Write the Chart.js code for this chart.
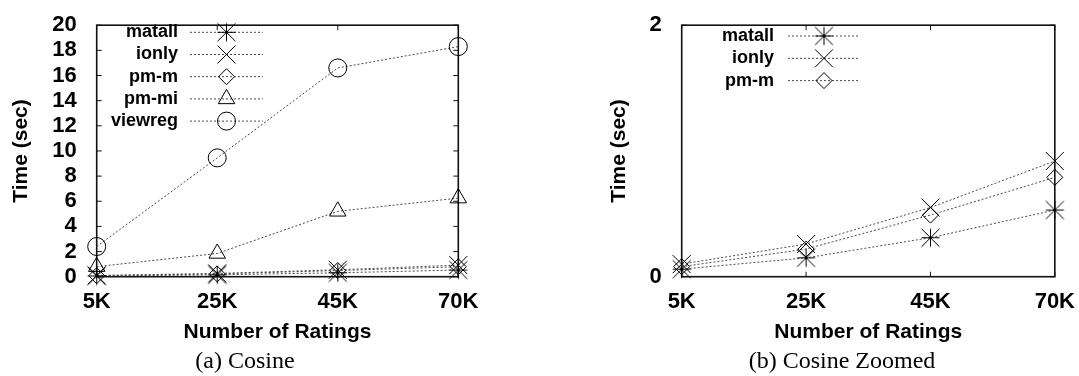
<!DOCTYPE html>
<html>
<head>
<meta charset="utf-8">
<script src="https://cdn.jsdelivr.net/npm/chart.js@4/dist/chart.umd.min.js"></script>
<style>
  html, body { margin: 0; padding: 0; background: #fff; }
  #wrap { position: relative; width: 1079px; height: 376px; overflow: hidden; }
  .panel { position: absolute; top: 0; height: 376px; }
  #pa { left: 0; width: 540px; }
  #pb { left: 540px; width: 539px; }
</style>
</head>
<body>
<div id="wrap">
  <div class="panel" id="pa"><canvas id="ca" width="540" height="376"></canvas></div>
  <div class="panel" id="pb"><canvas id="cb" width="539" height="376"></canvas></div>
</div>
<script>
// Number of ratings on the x axis
const categories = ['5K', '25K', '45K', '70K'];

// Running time in seconds per method
const matall  = [0.06, 0.15, 0.31, 0.53];
const ionly   = [0.10, 0.26, 0.55, 0.92];
const pmM     = [0.08, 0.22, 0.49, 0.79];
const pmMi    = [0.80, 1.85, 5.20, 6.25];
const viewreg = [2.40, 9.45, 16.60, 18.30];

// Tick labels of the two y axes
const yTicksFull   = [0, 2, 4, 6, 8, 10, 12, 14, 16, 18, 20];
const yTicksZoomed = [0, 2];

const SANS = '"Liberation Sans", Arial, Helvetica, sans-serif';
const SERIF = '"Liberation Serif", "Times New Roman", serif';
const LINE_GREY = '#4a4a4a';

// gnuplot-style asterisk: a plus and a cross of equal extent
function makeStar(h) {
  const s = 2 * h + 3;
  const c = document.createElement('canvas');
  c.width = s; c.height = s;
  const g = c.getContext('2d');
  const m = s / 2;
  g.strokeStyle = '#000';
  g.lineWidth = 1;
  g.beginPath();
  g.moveTo(m - h, m); g.lineTo(m + h, m);
  g.moveTo(m, m - h); g.lineTo(m, m + h);
  g.moveTo(m - h, m - h); g.lineTo(m + h, m + h);
  g.moveTo(m - h, m + h); g.lineTo(m + h, m - h);
  g.stroke();
  return c;
}
const starImg = makeStar(9);

const styles = {
  matall:  { label: 'matall',  pointStyle: starImg,    pointRadius: 9 },
  ionly:   { label: 'ionly',   pointStyle: 'crossRot', pointRadius: 12.7 },
  pmM:     { label: 'pm-m',    pointStyle: 'rectRot',  pointRadius: 8 },
  pmMi:    { label: 'pm-mi',   pointStyle: 'triangle', pointRadius: 9.5 },
  viewreg: { label: 'viewreg', pointStyle: 'circle',   pointRadius: 9 }
};

function dataset(key, values) {
  const s = styles[key];
  return {
    label: s.label,
    data: values,
    pointStyle: s.pointStyle,
    pointRadius: s.pointRadius,
    pointHoverRadius: s.pointRadius,
    pointBorderColor: '#000',
    pointBackgroundColor: 'rgba(0,0,0,0)',
    pointBorderWidth: 1,
    borderColor: LINE_GREY,
    borderWidth: 1,
    borderDash: [2, 2],
    tension: 0,
    fill: false,
    clip: false
  };
}

// Frame with inward tick marks on all four sides
const framePlugin = {
  id: 'frame',
  beforeDatasetsDraw(chart) {
    const { ctx, chartArea: a, scales } = chart;
    const tl = 5;
    ctx.save();
    ctx.strokeStyle = '#111';
    ctx.lineWidth = 1;
    ctx.beginPath();
    scales.y.ticks.forEach(t => {
      const py = scales.y.getPixelForValue(t.value);
      ctx.moveTo(a.left, py); ctx.lineTo(a.left + tl, py);
      ctx.moveTo(a.right, py); ctx.lineTo(a.right - tl, py);
    });
    scales.x.ticks.forEach((t, i) => {
      const px = scales.x.getPixelForTick(i);
      ctx.moveTo(px, a.bottom); ctx.lineTo(px, a.bottom - tl);
      ctx.moveTo(px, a.top); ctx.lineTo(px, a.top + tl);
    });
    ctx.stroke();
    ctx.lineWidth = 1.6;
    ctx.strokeRect(a.left, a.top, a.right - a.left, a.bottom - a.top);
    ctx.restore();
  }
};

// Key in the gnuplot manner: label, then a line sample with the marker in its middle
const keyPlugin = {
  id: 'gkey',
  afterDraw(chart, args, opts) {
    const { ctx } = chart;
    ctx.save();
    chart.data.datasets.forEach((ds, i) => {
      const y = opts.y0 + i * opts.dy;
      ctx.fillStyle = '#000';
      ctx.font = 'bold 18px ' + SANS;
      ctx.textAlign = 'right';
      ctx.textBaseline = 'middle';
      ctx.fillText(ds.label, opts.textRight, y);
      ctx.strokeStyle = LINE_GREY;
      ctx.lineWidth = 1;
      ctx.setLineDash([2, 2]);
      ctx.beginPath();
      ctx.moveTo(opts.x0, y); ctx.lineTo(opts.x1, y);
      ctx.stroke();
      ctx.setLineDash([]);
      ctx.strokeStyle = '#000';
      ctx.fillStyle = 'rgba(0,0,0,0)';
      ctx.lineWidth = 1;
      Chart.helpers.drawPoint(ctx, {
        pointStyle: ds.pointStyle, radius: ds.pointRadius, rotation: 0, borderWidth: 1
      }, (opts.x0 + opts.x1) / 2, y);
    });
    ctx.restore();
  }
};

// Sub-figure caption under the axis title
const captionPlugin = {
  id: 'caption',
  afterDraw(chart, args, opts) {
    const { ctx } = chart;
    ctx.save();
    ctx.fillStyle = '#000';
    ctx.font = '24px ' + SERIF;
    ctx.textAlign = 'center';
    ctx.textBaseline = 'middle';
    ctx.fillText(opts.text, opts.x, opts.y);
    ctx.restore();
  }
};

function makeChart(canvasId, cfg) {
  const W = cfg.width, H = 376;
  return new Chart(document.getElementById(canvasId), {
    type: 'line',
    data: { labels: categories, datasets: cfg.datasets },
    plugins: [framePlugin, keyPlugin, captionPlugin],
    options: {
      responsive: false,
      animation: false,
      devicePixelRatio: 1,
      events: [],
      layout: {
        autoPadding: false,
        padding: { top: cfg.top, right: W - cfg.right, left: 0, bottom: 0 }
      },
      plugins: {
        legend: { display: false },
        tooltip: { enabled: false },
        gkey: cfg.key,
        caption: cfg.caption
      },
      scales: {
        x: {
          type: 'category',
          offset: false,
          grid: { display: false },
          border: { display: false },
          ticks: {
            color: '#000',
            font: { family: SANS, size: 22, weight: 'bold' },
            padding: 4,
            maxRotation: 0,
            autoSkip: false
          },
          title: {
            display: true,
            text: 'Number of Ratings',
            color: '#000',
            font: { family: SANS, size: 21, weight: 'bold' },
            padding: { top: 0, bottom: 31 }
          },
          afterFit(s) { s.height = H - cfg.bottom; }
        },
        y: {
          min: 0,
          max: cfg.yTicks[cfg.yTicks.length - 1],
          grid: { display: false },
          border: { display: false },
          afterBuildTicks(s) { s.ticks = cfg.yTicks.map(v => ({ value: v })); },
          ticks: {
            color: '#000',
            font: { family: SANS, size: 22, weight: 'bold' },
            padding: 12,
            autoSkip: false
          },
          title: {
            display: true,
            text: 'Time (sec)',
            color: '#000',
            font: { family: SANS, size: 21, weight: 'bold' },
            padding: { top: cfg.yTitlePad, bottom: 0 }
          },
          afterFit(s) { s.width = cfg.left; }
        }
      }
    }
  });
}

makeChart('ca', {
  width: 540,
  left: 96.7, right: 458.3, top: 20.5, bottom: 276.7,
  yTicks: yTicksFull,
  yTitlePad: 9,
  datasets: [
    dataset('matall', matall),
    dataset('ionly', ionly),
    dataset('pmM', pmM),
    dataset('pmMi', pmMi),
    dataset('viewreg', viewreg)
  ],
  key: { textRight: 178, x0: 190, x1: 263, y0: 32.3, dy: 22.2 },
  caption: { text: '(a) Cosine', x: 245, y: 362 }
});

makeChart('cb', {
  width: 539,
  left: 141.7, right: 517, top: 21, bottom: 276.7,
  yTicks: yTicksZoomed,
  yTitlePad: 67,
  datasets: [
    dataset('matall', matall),
    dataset('ionly', ionly),
    dataset('pmM', pmM)
  ],
  key: { textRight: 234, x0: 248, x1: 320, y0: 36, dy: 22.3 },
  caption: { text: '(b) Cosine Zoomed', x: 302, y: 362 }
});
</script>
</body>
</html>
